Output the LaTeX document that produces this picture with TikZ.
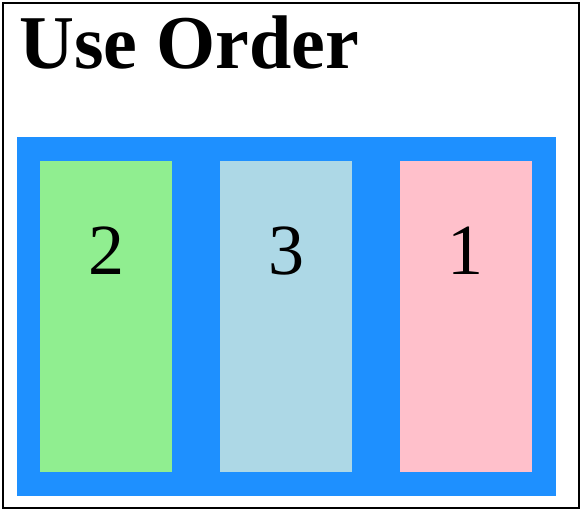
\documentclass[tikz,border=0pt]{standalone}
\usepackage{fontspec}
\setmainfont{Liberation Serif}
\definecolor{dodger}{RGB}{30,144,255}
\definecolor{lgreen}{RGB}{144,238,144}
\definecolor{lblue}{RGB}{173,216,230}
\definecolor{lpink}{RGB}{255,192,203}
\tikzset{
  item/.style={minimum width=132pt, minimum height=311pt, inner sep=0pt, anchor=north west},
  num/.style={font=\fontsize{72}{72}\selectfont, anchor=base, inner sep=0pt},
}
\begin{document}
\begin{tikzpicture}[x=1pt,y=1pt]
\useasboundingbox (0,0) rectangle (583,-512);
\draw[line width=2pt] (3,-3) rectangle (579,-508);
\node[anchor=base west, inner sep=0pt, font=\fontsize{76}{76}\selectfont\bfseries] (title) at (19,-68) {Use Order};
\node[fill=dodger, minimum width=539pt, minimum height=359pt, inner sep=0pt, anchor=north west] (flex) at (17,-137) {};
\node[item, fill=lgreen] (b2) at (40,-161) {};
\node[item, fill=lblue] (b3) at (220,-161) {};
\node[item, fill=lpink] (b1) at (400,-161) {};
\node[num] (n2) at (106,-274) {2};
\node[num] (n3) at (286,-274) {3};
\node[num] (n1) at (465,-274) {1};
\end{tikzpicture}
\end{document}
